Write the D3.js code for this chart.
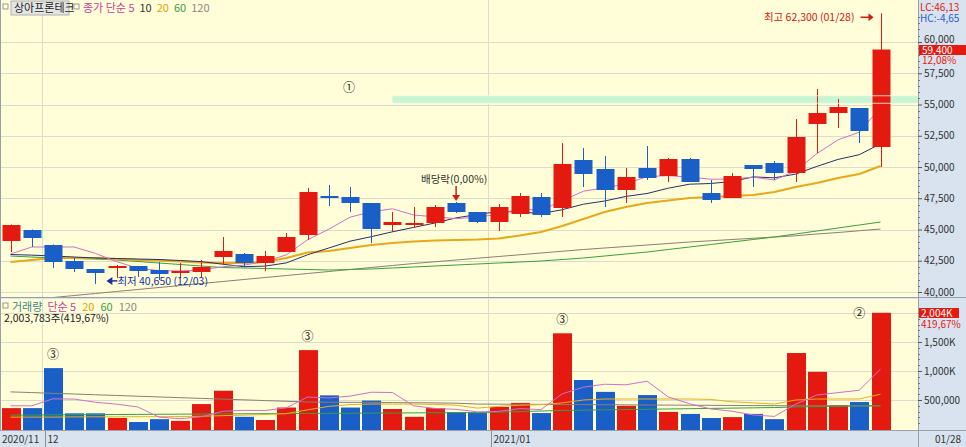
<!DOCTYPE html>
<html><head><meta charset="utf-8">
<script src="https://cdn.jsdelivr.net/npm/d3@7"></script>
<style>
body{margin:0;background:#fff}
svg{display:block}
text{font-family:"Noto Sans CJK KR","Noto Sans",sans-serif}
</style>
</head><body>
<svg id="c" width="966" height="447"></svg>
<script>
// ---------- DATA ----------
const dates = ["11/27","11/30","12/01","12/02","12/03","12/04","12/07","12/08","12/09","12/10","12/11","12/14","12/15","12/16","12/17","12/18","12/21","12/22","12/23","12/24","12/28","12/29","12/30","01/04","01/05","01/06","01/07","01/08","01/11","01/12","01/13","01/14","01/15","01/18","01/19","01/20","01/21","01/22","01/25","01/26","01/27","01/28"];
const openP  = [44080,44960,43760,42480,41840,41920,42080,41760,41520,41600,42800,43040,42320,43200,44560,47680,47600,47120,45360,45360,45520,47120,46400,45600,46240,47600,46720,50560,49840,48160,49920,49280,50640,47920,47520,50160,50320,49520,53440,54320,54720,51600];
const highP  = [45400,45000,43800,42720,41840,42160,42080,42400,42320,42560,44400,43120,43280,44720,48320,48560,48400,47120,46400,46800,46960,47200,46400,47040,47920,47920,51920,51520,50880,49920,51680,50720,50720,48960,49520,50160,50480,53840,56240,55440,54720,62300];
const lowP   = [43200,43600,41920,41600,40650,41120,41200,40960,41120,41120,42160,42000,41680,43200,44160,46880,46400,43920,44800,45120,45200,46320,45520,44880,46000,46000,46000,48400,46800,47120,48960,48800,48800,47120,47520,48400,48960,48800,51120,53120,51920,50000];
const closeP = [45360,44320,42400,41840,41520,42080,41680,41440,41680,42000,43280,42320,42880,44400,48000,47520,47120,45040,45600,45520,46800,46400,45600,46800,47680,46160,50240,49440,48160,49200,49120,50640,48800,47360,49280,49840,49520,52400,54320,54800,52880,59400];
const volume = [360000,360000,1050000,270000,270000,190000,120000,170000,140000,430000,660000,210000,155000,370000,1360000,580000,370000,490000,345000,210000,360000,290000,275000,380000,450000,275000,1650000,845000,640000,400000,585000,295000,260000,190000,205000,260000,170000,1310000,985000,410000,465000,2003783];

const ma5   = [43040,43600,43600,43600,43088,42432,41904,41712,41680,41776,42016,42144,42432,42976,44176,45024,45984,46416,46656,46160,46016,45872,45984,46224,46656,46528,47296,48064,48336,48640,49232,49312,49184,49024,49040,49184,48960,49680,51072,52176,52784,54760];
const ma10  = [43000,42950,42880,42800,42720,42680,42640,42600,42520,42432,42224,42024,42072,42328,42976,43520,44064,44424,44816,45168,45520,45928,46200,46440,46408,46272,46584,47024,47280,47648,47880,48304,48624,48680,48840,49208,49136,49432,50048,50608,50984,51860];
const ma20  = [42400,42560,42720,42720,42720,42640,42560,42520,42440,42360,42320,42320,42400,42720,43160,43280,43520,43760,43920,44040,44120,44160,44200,44280,44520,44800,45280,45840,46400,46800,47120,47320,47520,47600,47680,47760,48000,48400,48720,49120,49440,50080];
const ma60  = [42880,42800,42720,42680,42640,42560,42440,42320,42200,42080,41960,41920,41880,41840,41800,41760,41800,41840,41920,42000,42080,42160,42240,42320,42400,42480,42600,42720,42880,43040,43200,43400,43600,43800,44000,44200,44400,44640,44880,45120,45360,45600];
const ma120 = [39320,39440,39560,39720,39880,40040,40200,40360,40520,40680,40840,41000,41160,41320,41480,41640,41800,41960,42120,42280,42420,42560,42700,42840,42980,43120,43260,43400,43520,43640,43760,43880,44000,44100,44200,44300,44400,44500,44640,44760,44900,45040];

const vma5   = [400,400,520,515,462,428,380,204,178,210,304,322,319,365,551,535,567,634,629,399,355,339,296,303,351,334,606,720,772,762,824,553,436,346,307,242,217,427,586,627,668,1035];
const vma20  = [205,205,205,208,210,210,212,212,215,220,230,240,250,265,330,390,420,430,430,430,425,410,360,390,410,420,450,500,517,517,517,517,517,510,470,450,430,500,517,517,517,600];
const vma60  = [240,242,244,246,248,250,252,254,256,258,260,262,264,266,268,270,272,274,276,278,280,282,284,290,300,310,320,325,330,335,340,345,350,355,360,365,370,380,385,390,395,400];
const vma120 = [640,628,615,603,590,578,565,553,540,528,515,503,490,478,465,462,460,458,455,452,450,445,430,428,426,424,422,420,418,416,414,412,410,408,406,404,402,400,400,400,400,400];

const priceTicks = [40000,42500,45000,47500,50000,52500,55000,57500,60000];
const volTicks = [500000,1000000,1500000];
const volTickLabels = ["500,000","1,000K","1,500K"];
const monthStarts = [{i:2,label:"12"},{i:23,label:"2021/01"}];

// ---------- LAYOUT ----------
const W=966,H=447, plotR=918;
const pTop=0,pBot=297, vTop=299, vBot=430;
const RED="#e41a10", BLUE="#1a5ec8", BG="#fffed9", AXBG="#d8e3ef", GRID="#dcdccc";
const FS=10;

const svg=d3.select("#c");
const idx=d3.range(dates.length);
const x=d3.scalePoint().domain(idx).range([10.5,880.5]);
const step=x.step();
const y=d3.scaleLinear().domain([40000,60000]).range([292,42]);
const yv=d3.scaleLinear().domain([0,2000000]).range([429,313]);

svg.append("rect").attr("width",W).attr("height",H).attr("fill",AXBG);
svg.append("rect").attr("x",0).attr("y",pTop).attr("width",plotR).attr("height",pBot-pTop).attr("fill",BG);
svg.append("rect").attr("x",0).attr("y",vTop).attr("width",plotR).attr("height",vBot-vTop).attr("fill",BG);

const defs=svg.append("defs");
defs.append("clipPath").attr("id","pclip").append("rect").attr("x",0).attr("y",pTop).attr("width",plotR).attr("height",pBot-pTop);
defs.append("clipPath").attr("id","vclip").append("rect").attr("x",0).attr("y",vTop).attr("width",plotR).attr("height",vBot-vTop);

// grid
const gp=svg.append("g").attr("clip-path","url(#pclip)");
gp.selectAll("line.h").data(priceTicks).join("line")
  .attr("x1",0).attr("x2",plotR).attr("y1",d=>Math.round(y(d))+0.5).attr("y2",d=>Math.round(y(d))+0.5)
  .attr("stroke",GRID).attr("stroke-width",1);
const gv=svg.append("g").attr("clip-path","url(#vclip)");
gv.selectAll("line.h").data([...volTicks,2000000]).join("line")
  .attr("x1",0).attr("x2",plotR).attr("y1",d=>Math.round(yv(d))+0.5).attr("y2",d=>Math.round(yv(d))+0.5)
  .attr("stroke",GRID);
const mx=d=>Math.round(x(d.i)-step/2)+0.5;
[gp,gv].forEach(g=>g.selectAll("line.v").data(monthStarts).join("line")
  .attr("x1",mx).attr("x2",mx).attr("y1",0).attr("y2",H).attr("stroke",GRID));

// band
gp.append("rect").attr("x",x(18)).attr("y",y(55700)).attr("width",plotR-x(18)).attr("height",y(55100)-y(55700))
  .attr("fill","#c9f6d2");

// price MA lines
const line=(arr,ys)=>d3.line().x((d,i)=>x(i)).y(d=>ys(d))(arr);
const maDefs=[[ma120,"#8a8070",1],[ma60,"#3aa040",1],[ma20,"#e8a817",2],[ma10,"#28306a",1],[ma5,"#d070c8",1]];
maDefs.forEach(([a,c,w])=>gp.append("path").attr("d",line(a,y)).attr("fill","none").attr("stroke",c).attr("stroke-width",w));

// candles
const cg=gp.selectAll("g.c").data(idx).join("g");
cg.append("line").attr("x1",i=>Math.round(x(i))+0.5).attr("x2",i=>Math.round(x(i))+0.5)
  .attr("y1",i=>y(highP[i])).attr("y2",i=>y(lowP[i]))
  .attr("stroke",i=>closeP[i]>=openP[i]?RED:BLUE);
cg.append("rect").attr("x",i=>Math.round(x(i))-8.5).attr("width",18)
  .attr("y",i=>y(Math.max(openP[i],closeP[i])))
  .attr("height",i=>Math.max(2,Math.abs(y(openP[i])-y(closeP[i]))))
  .attr("fill",i=>closeP[i]>=openP[i]?RED:BLUE);
// band edges over candles
gp.selectAll("line.be").data([55700,55100]).join("line")
  .attr("x1",x(18)).attr("x2",plotR).attr("y1",d=>y(d)).attr("y2",d=>y(d))
  .attr("stroke","#f4fbe8").attr("stroke-width",1).attr("opacity",0.8);

// volume bars
gv.selectAll("rect.v").data(idx).join("rect")
  .attr("x",i=>Math.round(x(i))-9).attr("width",19)
  .attr("y",i=>yv(volume[i])).attr("height",i=>yv(0)-yv(volume[i])+1)
  .attr("fill",i=>closeP[i]>=openP[i]?RED:BLUE);
const vmaDefs=[[vma120,"#8a8070"],[vma60,"#3aa040"],[vma20,"#e8b020"],[vma5,"#d070c8"]];
vmaDefs.forEach(([a,c])=>gv.append("path").attr("d",line(a.map(v=>v*1000),yv)).attr("fill","none").attr("stroke",c).attr("stroke-width",1));

// panel borders
svg.append("line").attr("x1",0).attr("x2",W).attr("y1",297.5).attr("y2",297.5).attr("stroke","#9aa0a8");
svg.append("line").attr("x1",0).attr("x2",W).attr("y1",430.5).attr("y2",430.5).attr("stroke","#9aa0a8");
svg.append("line").attr("x1",plotR+0.5).attr("x2",plotR+0.5).attr("y1",0).attr("y2",H).attr("stroke","#9aa0a8");
svg.append("line").attr("x1",0.5).attr("x2",0.5).attr("y1",0).attr("y2",430).attr("stroke","#9aa0a8");

// right price axis
const ax=svg.append("g").attr("transform",`translate(${plotR},0)`)
  .call(d3.axisRight(y).tickValues(priceTicks).tickFormat(d3.format(",")).tickSize(4).tickPadding(2));
ax.select(".domain").remove();
ax.selectAll("line").attr("stroke","#555");
ax.selectAll("text").attr("fill","#333").attr("font-size",FS);
ax.selectAll(".tick").filter(d=>d===60000).select("text").attr("dy","0.05em");
const minor=d3.range(40000,62001,500).filter(v=>!priceTicks.includes(v));
svg.append("g").selectAll("line").data(minor).join("line")
  .attr("x1",plotR).attr("x2",plotR+2).attr("y1",d=>Math.round(y(d))+0.5).attr("y2",d=>Math.round(y(d))+0.5).attr("stroke","#777");

// right volume axis
const axv=svg.append("g").attr("transform",`translate(${plotR},0)`)
  .call(d3.axisRight(yv).tickValues(volTicks).tickFormat((d,i)=>volTickLabels[i]).tickSize(4).tickPadding(2));
axv.select(".domain").remove();
axv.selectAll("line").attr("stroke","#555");
axv.selectAll("text").attr("fill","#333").attr("font-size",FS);
const vminor=d3.range(100000,2000001,100000).filter(v=>!volTicks.includes(v));
svg.append("g").selectAll("line").data(vminor).join("line")
  .attr("x1",plotR).attr("x2",plotR+2).attr("y1",d=>Math.round(yv(d))+0.5).attr("y2",d=>Math.round(yv(d))+0.5).attr("stroke","#777");

// current price marker
const last=dates.length-1;
const cy=Math.round(y(closeP[last]));
svg.append("rect").attr("x",plotR+1).attr("y",cy-5).attr("width",W-plotR-1).attr("height",10).attr("fill",RED);
svg.append("text").attr("x",plotR+4).attr("y",cy+4).attr("fill","#fff").attr("font-size",FS).text("59,400");
svg.append("text").attr("x",plotR+4).attr("y",cy+14).attr("fill",RED).attr("font-size",FS).text("12,08%");
svg.append("text").attr("x",plotR+2).attr("y",11).attr("fill",RED).attr("font-size",FS).text("LC:46,13");
svg.append("text").attr("x",plotR+2).attr("y",22).attr("fill","#2a5ed0").attr("font-size",FS).text("HC:-4,65");
// volume marker
const vy=Math.round(yv(volume[last]));
svg.append("rect").attr("x",plotR+1).attr("y",vy-5).attr("width",40).attr("height",10).attr("fill",RED);
svg.append("text").attr("x",plotR+3).attr("y",vy+4).attr("fill","#fff").attr("font-size",FS).text("2,004K");
svg.append("text").attr("x",plotR+3).attr("y",vy+15).attr("fill",RED).attr("font-size",FS).text("419,67%");

// x axis labels
svg.append("text").attr("x",2).attr("y",443).attr("fill","#333").attr("font-size",FS).text("2020/11");
monthStarts.forEach(m=>{
  svg.append("line").attr("x1",mx(m)+3).attr("x2",mx(m)+3).attr("y1",431).attr("y2",447).attr("stroke","#8a9098");
  svg.append("text").attr("x",mx(m)+5).attr("y",443).attr("fill","#333").attr("font-size",FS).text(m.label);
});
svg.append("text").attr("x",935).attr("y",443).attr("fill","#333").attr("font-size",FS).text("01/28");

// legends
svg.append("rect").attr("x",3).attr("y",4).attr("width",5).attr("height",5).attr("fill","none").attr("stroke","#999");
svg.append("rect").attr("x",11).attr("y",1).attr("width",58).attr("height",14).attr("fill","#e4e4e4").attr("stroke","#b0b0b0");
svg.append("text").attr("x",14).attr("y",12).attr("fill","#222").attr("font-size",11).text("상아프론테크");
svg.append("rect").attr("x",74).attr("y",4).attr("width",5).attr("height",5).attr("fill","none").attr("stroke","#999");
const leg=svg.append("text").attr("x",83).attr("y",12).attr("font-size",11);
[["종가 단순 5","#c8409c",0],["10","#333",5],["20","#e0a000",5],["60","#3aa040",5],["120","#888",5]].forEach(([t,c,dx])=>leg.append("tspan").attr("fill",c).attr("dx",dx).text(t));

svg.append("rect").attr("x",3).attr("y",303).attr("width",5).attr("height",5).attr("fill","none").attr("stroke","#999");
const leg2=svg.append("text").attr("x",12).attr("y",311).attr("font-size",11);
[["거래량","#3a8a8a",0],["단순 5","#c8409c",5],["20","#e0a000",6],["60","#3aa040",6],["120","#888",6]].forEach(([t,c,dx])=>leg2.append("tspan").attr("fill",c).attr("dx",dx).text(t));
svg.append("text").attr("x",4).attr("y",322).attr("font-size",10.5).attr("fill","#222").text("2,003,783주(419,67%)");

// annotations
const ann=svg.append("g");
ann.append("text").attr("x",x(last)-26).attr("y",y(62300)+8).attr("text-anchor","end").attr("fill","#d02010").attr("font-size",10.5).text("최고 62,300 (01/28)");
ann.append("line").attr("x1",x(last)-20).attr("x2",x(last)-10).attr("y1",y(62300)+4).attr("y2",y(62300)+4).attr("stroke","#d02010").attr("stroke-width",1.5);
ann.append("path").attr("d",`M${x(last)-7},${y(62300)+4}l-5,-4v8z`).attr("fill","#d02010");

const lowI=4;
ann.append("path").attr("d",`M${x(lowI)+11},${y(40650)-3}l6,-4v8z`).attr("fill","#2030a0");
ann.append("line").attr("x1",x(lowI)+15).attr("x2",x(lowI)+22).attr("y1",y(40650)-3).attr("y2",y(40650)-3).attr("stroke","#2030a0").attr("stroke-width",1.5);
ann.append("text").attr("x",x(lowI)+22).attr("y",y(40650)+1).attr("fill","#2030a0").attr("font-size",10.5).text("최저 40,650 (12/03)");

const exI=21;
ann.append("text").attr("x",x(exI)-2).attr("y",y(47200)-19).attr("text-anchor","middle").attr("fill","#333").attr("font-size",10.5).text("배당락(0,00%)");
ann.append("line").attr("x1",x(exI)).attr("x2",x(exI)).attr("y1",y(47200)-16).attr("y2",y(47200)-5).attr("stroke","#d02010").attr("stroke-width",1.5);
ann.append("path").attr("d",`M${x(exI)},${y(47200)-1}l-4,-6h8z`).attr("fill","#d02010");

ann.append("text").attr("x",349).attr("y",92).attr("text-anchor","middle").attr("fill","#222").attr("font-size",12).text("①");
[[2,"③"],[14,"③"],[26,"③"]].forEach(([i,t])=>ann.append("text").attr("x",x(i)).attr("y",yv(volume[i])-9).attr("text-anchor","middle").attr("fill","#222").attr("font-size",12).text(t));
ann.append("text").attr("x",x(40)).attr("y",yv(volume[last])+5).attr("text-anchor","middle").attr("fill","#222").attr("font-size",12).text("②");
</script>
</body></html>
